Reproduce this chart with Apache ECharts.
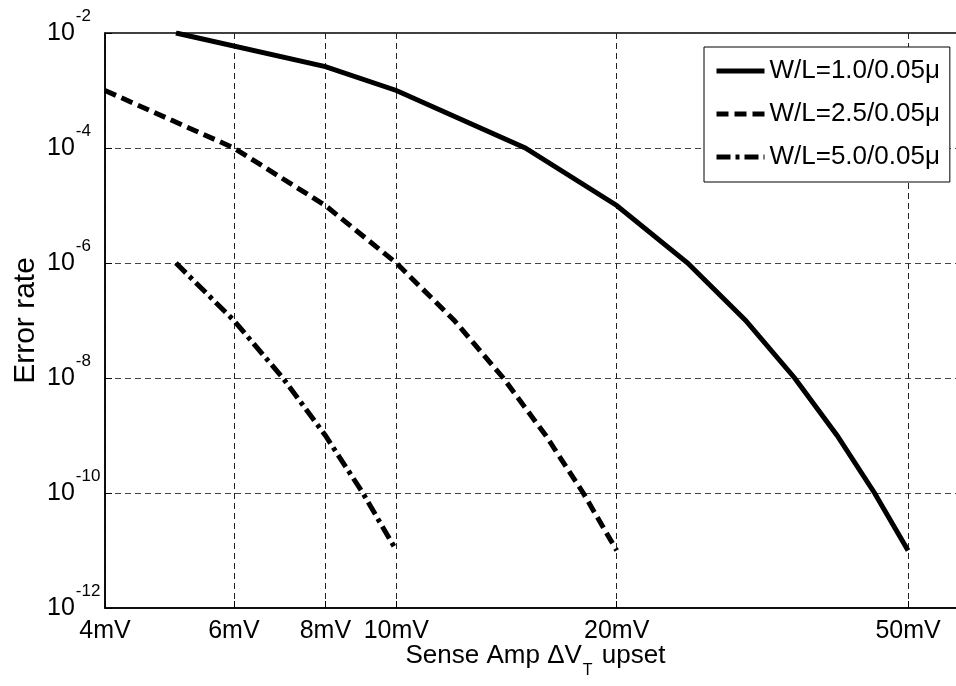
<!DOCTYPE html>
<html>
<head>
<meta charset="utf-8">
<script src="https://cdn.jsdelivr.net/npm/echarts@6/dist/echarts.min.js"></script>
<style>html,body{margin:0;padding:0;background:#fff}#c{width:956px;height:686px}</style>
</head>
<body>
<div id="c"></div>
<script>
const xTicks = [4, 6, 8, 10, 20, 50];
const yTicks = [1e-12, 1e-10, 1e-8, 1e-6, 1e-4, 1e-2];
const seriesNames = ['W/L=1.0/0.05\u03bc', 'W/L=2.5/0.05\u03bc', 'W/L=5.0/0.05\u03bc'];
const x1 = [5, 8, 10, 15, 20, 25, 30, 35, 40, 45, 50];
const y1 = [1e-2, 2.6e-3, 1e-3, 1e-4, 1e-5, 1e-6, 1e-7, 1e-8, 1e-9, 1e-10, 1e-11];
const x2 = [4, 6, 8, 10, 12, 14, 16, 18, 20];
const y2 = [1e-3, 1e-4, 1e-5, 1e-6, 1e-7, 1e-8, 1e-9, 1e-10, 1e-11];
const x3 = [5, 6, 7, 8, 9, 10];
const y3 = [1e-6, 1e-7, 1e-8, 1e-9, 1e-10, 1e-11];

const FONT = 'Liberation Sans, Arial, sans-serif';
const zip = (xs, ys) => xs.map((x, i) => [x, ys[i]]);
const dashes = ['solid', [12, 6], [14, 5, 4, 5]];

const chart = echarts.init(document.getElementById('c'), null, {renderer: 'canvas'});
chart.setOption({
  backgroundColor: '#fff',
  animation: false,
  textStyle: {fontFamily: FONT, color: '#000'},
  grid: {left: 105, top: 33, right: -10, bottom: 78, containLabel: false, outerBoundsMode: 'none',
    show: true, borderColor: '#000', borderWidth: 1.5, backgroundColor: 'transparent'},
  legend: {
    orient: 'vertical', left: 704, top: 47,
    width: 243,
    padding: [9, 10, 10, 10],
    backgroundColor: '#fff',
    borderColor: '#000', borderWidth: 1,
    itemWidth: 48, itemHeight: 14, itemGap: 13,
    itemStyle: {color: 'transparent', borderColor: 'transparent', borderWidth: 0},
    lineStyle: {width: 5},
    textStyle: {fontFamily: FONT, fontSize: 26, color: '#000', lineHeight: 30},
    data: seriesNames
  },
  xAxis: {
    type: 'log', logBase: 10, min: 4, max: 60,
    name: '{a|Sense Amp \u0394V}{s|T}{a| upset}',
    nameLocation: 'middle', nameGap: 33, nameMoveOverlap: false,
    nameTextStyle: {rich: {
      a: {fontFamily: FONT, fontSize: 26, color: '#000', lineHeight: 30, verticalAlign: 'middle'},
      s: {fontFamily: FONT, fontSize: 16, color: '#000', lineHeight: 30, verticalAlign: 'bottom', padding: [0, 2, -8, 1]}
    }},
    axisLine: {show: true, lineStyle: {color: '#000', width: 1.5}},
    axisTick: {show: true, inside: true, length: 7, customValues: xTicks, lineStyle: {color: '#000', width: 1}},
    axisLabel: {customValues: xTicks, fontFamily: FONT, fontSize: 25, color: '#000', margin: 11,
      formatter: v => v + 'mV', showMinLabel: true, showMaxLabel: true},
    splitLine: {show: true, lineStyle: {color: '#222', width: 1, type: [6, 4]}},
    minorTick: {show: false}, minorSplitLine: {show: false}
  },
  yAxis: {
    type: 'log', logBase: 10, min: 1e-12, max: 1e-2,
    name: 'Error rate', nameLocation: 'middle', nameGap: 64, nameRotate: 90, nameMoveOverlap: false,
    nameTextStyle: {fontFamily: FONT, fontSize: 30, color: '#000'},
    axisLine: {show: true, lineStyle: {color: '#000', width: 1.5}},
    axisTick: {show: true, inside: true, length: 7, customValues: yTicks, lineStyle: {color: '#000', width: 1}},
    axisLabel: {
      customValues: yTicks, margin: 58, align: 'left',
      formatter: v => '{b|10}{e|' + Math.round(Math.log10(v)) + '}',
      rich: {
        b: {fontFamily: FONT, fontSize: 25, color: '#000', lineHeight: 50, verticalAlign: 'middle'},
        e: {fontFamily: FONT, fontSize: 17, color: '#000', lineHeight: 20, verticalAlign: 'top', padding: [0, 0, 0, 1]}
      }
    },
    splitLine: {show: true, lineStyle: {color: '#444', width: 1, type: [6, 4]}},
    minorTick: {show: false}, minorSplitLine: {show: false}
  },
  series: [zip(x1, y1), zip(x2, y2), zip(x3, y3)].map((d, i) => ({
    name: seriesNames[i], type: 'line', data: d, symbol: 'none', showSymbol: false,
    lineStyle: {color: '#000', width: 5, type: dashes[i], cap: 'butt', join: 'miter'},
    itemStyle: {color: '#000'},
    emphasis: {disabled: true}
  }))
});
</script>
</body>
</html>
